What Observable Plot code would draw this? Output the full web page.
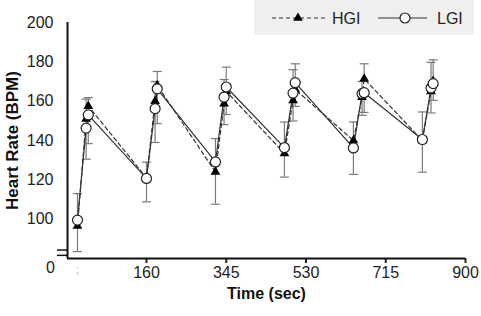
<!DOCTYPE html>
<html><head><meta charset="utf-8">
<script src="https://cdn.jsdelivr.net/npm/d3@7"></script>
<script src="https://cdn.jsdelivr.net/npm/@observablehq/plot@0.6"></script>
<style>
body{margin:0;background:#fff;font-family:"Liberation Sans",Arial,sans-serif;}
#wrap{position:relative;width:481px;height:316px;}
#legend{position:absolute;left:254px;top:0;width:220px;height:35px;background:#efefef;}
#legend svg{display:block;}
</style></head><body>
<div id="wrap"></div>
<script>
// Time of each measurement (sec)
const time = [0,20,25, 160,180,185, 320,340,345, 480,500,505, 640,660,665, 800,820,825];
// HGI heart rate (BPM) and upward SD
const hgi   = [96.5,151,157.5, 121,160,168, 124,158.7,165, 133.4,160.4,166, 140,162,171.4, 140,165,170.2];
const hgiSD = [16.5,10,4.3, 8,10,7.1, 17,12.3,12.3, 16,15.6,13, 9.4,8,7.6, 14.5,14.7,10.8];
// LGI heart rate (BPM) and downward SD
const lgi   = [99.5,146.3,153, 120.7,156.2,166.3, 129.1,162.1,167.2, 136.4,164.1,169.4, 136.2,163.8,164.3, 140.5,166.7,168.9];
const lgiSD = [16,15.8,14.6, 11.9,17.2,17.7, 21.5,14,14, 15,14.2,12, 13.4,11,10, 16.6,12.7,8.5];
// Axis ticks
const xTicks = [160,345,530,715,900];
const yTicks = [100,120,140,160,180,200];
const seriesNames = ["HGI","LGI"];

const rows = time.map((t,i)=>({t, hgi:hgi[i], hgiSD:hgiSD[i], lgi:lgi[i], lgiSD:lgiSD[i]}));
const cap = {draw(ctx){ ctx.moveTo(-4.5,0); ctx.lineTo(4.5,0); }};
const xMin = -23.2, yMin = 80;
const barColor = "#7a7a7a";

const chart = Plot.plot({
  width:481, height:316,
  marginLeft:67, marginRight:16, marginTop:22, marginBottom:58,
  style:{fontFamily:'"Liberation Sans", Arial, sans-serif', fontSize:"16px", color:"#222", background:"transparent"},
  x:{domain:[xMin,900]},
  y:{domain:[yMin,200]},
  marks:[
    // HGI error bars (upward)
    Plot.ruleX(rows, {x:"t", y1:"hgi", y2:d=>d.hgi+d.hgiSD, stroke:barColor, strokeWidth:1.2}),
    Plot.dot(rows, {x:"t", y:d=>d.hgi+d.hgiSD, symbol:cap, fill:"none", stroke:barColor, strokeWidth:1.2}),
    // LGI error bars (downward)
    Plot.ruleX(rows, {x:"t", y1:d=>d.lgi-d.lgiSD, y2:"lgi", stroke:barColor, strokeWidth:1.2}),
    Plot.dot(rows, {x:"t", y:d=>d.lgi-d.lgiSD, symbol:cap, fill:"none", stroke:barColor, strokeWidth:1.2}),
    Plot.line(rows, {x:"t", y:"hgi", stroke:"#333", strokeWidth:1.2, strokeDasharray:"4,3"}),
    Plot.line(rows, {x:"t", y:"lgi", stroke:"#333", strokeWidth:1.2}),
    Plot.dot(rows, {x:"t", y:"hgi", symbol:"triangle", fill:"#000", r:3.6}),
    Plot.dot(rows, {x:"t", y:"lgi", r:5, fill:"white", stroke:"#222", strokeWidth:1.2}),
    Plot.axisY({ticks:yTicks, tickSize:0, tickPadding:14, label:null, fontSize:16}),
    Plot.axisX({ticks:xTicks, tickSize:5, tickPadding:3, strokeWidth:2, label:null, fontSize:16}),
    Plot.ruleY([yMin], {stroke:"#111", strokeWidth:2}),
    Plot.ruleX([xMin], {stroke:"#111", strokeWidth:2}),
    Plot.ruleY([84.3, 81.6], {x1:-46.5, x2:xMin, stroke:"#111", strokeWidth:1.5, clip:false}),
    Plot.text([";"], {x:[0], frameAnchor:"bottom", dy:14, fill:"#aaa", fontSize:11}),
    Plot.text(["0"], {frameAnchor:"bottom-left", textAnchor:"middle", dx:-17, dy:14, fontSize:16, fill:"#222"}),
    Plot.text(["Time (sec)"], {frameAnchor:"bottom", dy:40, fontSize:16, fontWeight:"bold", fill:"#111"}),
    Plot.text(["Heart Rate (BPM)"], {frameAnchor:"left", textAnchor:"middle", dx:-54.5, rotate:-90, fontSize:17, fontWeight:"bold", fill:"#111"})
  ]
});
const wrap = document.getElementById("wrap");
wrap.appendChild(chart);

// Legend
const leg = document.createElement("div");
leg.id = "legend";
leg.innerHTML = `<svg width="220" height="35" font-family='"Liberation Sans", Arial, sans-serif' font-size="16">
  <line x1="18" x2="71" y1="18" y2="18" stroke="#333" stroke-width="1.2" stroke-dasharray="4,3"/>
  <path d="${d3.symbol(d3.symbolTriangle, Math.PI*3.6*3.6)()}" transform="translate(44,18)" fill="#000"/>
  <text x="78" y="24" fill="#222">${seriesNames[0]}</text>
  <line x1="124" x2="173" y1="18" y2="18" stroke="#333" stroke-width="1.2"/>
  <circle cx="151" cy="18" r="5" fill="white" stroke="#222" stroke-width="1.2"/>
  <text x="183" y="24" fill="#222">${seriesNames[1]}</text>
</svg>`;
wrap.appendChild(leg);
</script>
</body></html>
